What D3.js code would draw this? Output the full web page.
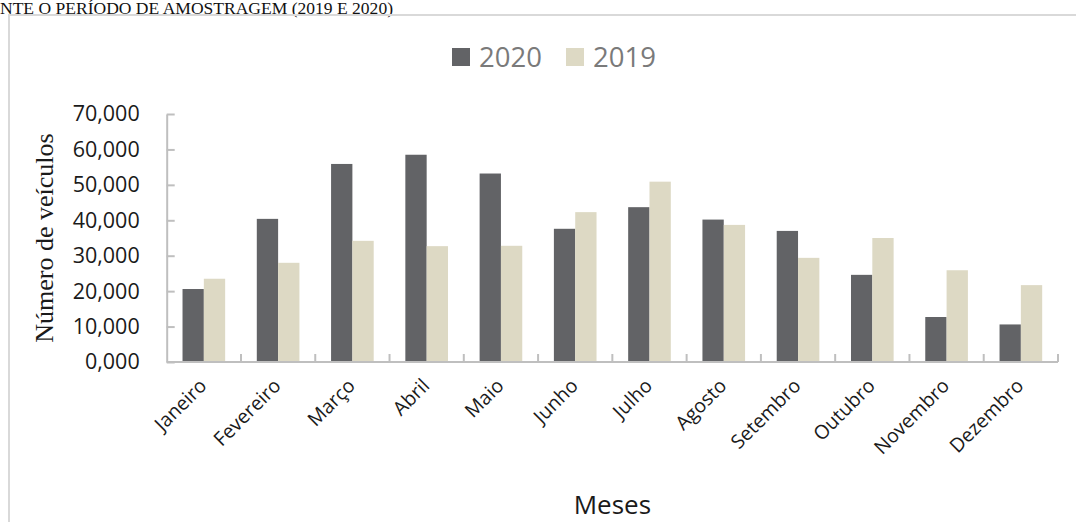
<!DOCTYPE html>
<html>
<head>
<meta charset="utf-8">
<script src="https://cdn.jsdelivr.net/npm/d3@7"></script>
<style>
  html, body { margin: 0; padding: 0; background: #fff; }
  svg { display: block; }
</style>
</head>
<body>
<svg id="chart" width="1076" height="522"></svg>
<script>
// Monthly vehicle counts for the two sampling years
const months = ["Janeiro", "Fevereiro", "Março", "Abril", "Maio", "Junho",
                "Julho", "Agosto", "Setembro", "Outubro", "Novembro", "Dezembro"];
const series2020 = [20600, 40400, 55900, 58500, 53200, 37600, 43700, 40200, 37000, 24600, 12700, 10600];
const series2019 = [23500, 28000, 34200, 32700, 32800, 42300, 50900, 38700, 29400, 35000, 25900, 21700];
const seriesNames = ["2020", "2019"];
const seriesColors = ["#626366", "#ddd9c4"];
const yTickValues = [0, 10000, 20000, 30000, 40000, 50000, 60000, 70000];
const yTickLabels = ["0,000", "10,000", "20,000", "30,000", "40,000", "50,000", "60,000", "70,000"];

const svg = d3.select("#chart");
const sans = "'Open Sans', 'Noto Sans', sans-serif";
const serif = "'Liberation Serif', 'DejaVu Serif', serif";

// Caption line above the chart box
svg.append("text")
  .attr("x", 0).attr("y", 14)
  .attr("font-family", serif).attr("font-size", 16.5)
  .attr("fill", "#111")
  .attr("textLength", 393).attr("lengthAdjust", "spacingAndGlyphs")
  .text("NTE O PERÍODO DE AMOSTRAGEM (2019 E 2020)");

// Chart area frame
svg.append("path")
  .attr("d", "M9,1076 V15 H1076")
  .attr("fill", "none").attr("stroke", "#d9d9d9").attr("stroke-width", 2);

const plot = { left: 166.7, right: 1058, top: 114, bottom: 362 };

const x = d3.scaleBand().domain(months).range([plot.left, plot.right]).paddingInner(0).paddingOuter(0);
const groupPad = 0.213;
const x1 = d3.scaleBand().domain(seriesNames)
  .range([x.bandwidth() * groupPad, x.bandwidth() * (1 - groupPad)]);
const y = d3.scaleLinear().domain([0, 70000]).range([plot.bottom, plot.top]);

const rows = months.map((m, i) => ({ month: m, values: [series2020[i], series2019[i]] }));

// Bars
const groups = svg.append("g").selectAll("g").data(rows).join("g")
  .attr("transform", d => `translate(${x(d.month)},0)`);
groups.selectAll("rect")
  .data(d => d.values.map((v, k) => ({ name: seriesNames[k], value: v, k })))
  .join("rect")
  .attr("x", d => x1(d.name))
  .attr("width", x1.bandwidth())
  .attr("y", d => y(d.value))
  .attr("height", d => y(0) - y(d.value))
  .attr("fill", d => seriesColors[d.k]);

// Y axis
const yAxis = svg.append("g")
  .attr("transform", `translate(${plot.left},0)`)
  .call(d3.axisLeft(y).tickValues(yTickValues)
    .tickFormat((d, i) => yTickLabels[i])
    .tickSizeInner(-8).tickSizeOuter(0).tickPadding(27));
yAxis.select(".domain").attr("stroke", "#bfbfbf").attr("stroke-width", 2);
yAxis.selectAll(".tick line").attr("stroke", "#bfbfbf").attr("stroke-width", 2);
yAxis.selectAll(".tick text")
  .attr("font-family", sans).attr("font-size", 21.5).attr("fill", "#1a1a1a");

// X axis: tick marks sit on category boundaries
const xAxisG = svg.append("g").attr("transform", `translate(0,${plot.bottom})`);
xAxisG.append("line")
  .attr("x1", plot.left).attr("x2", plot.right)
  .attr("stroke", "#bfbfbf").attr("stroke-width", 2);
const boundaries = months.slice(1).map(m => x(m)).concat([plot.right]);
xAxisG.selectAll("line.tk").data(boundaries).join("line")
  .attr("class", "tk")
  .attr("x1", d => d).attr("x2", d => d)
  .attr("y1", 0).attr("y2", -8)
  .attr("stroke", "#bfbfbf").attr("stroke-width", 2);
xAxisG.selectAll("text").data(months).join("text")
  .attr("transform", d => `translate(${x(d) + x.bandwidth() / 2 + 4},${25}) rotate(-45)`)
  .attr("text-anchor", "end")
  .attr("font-family", sans).attr("font-size", 19.5).attr("fill", "#1a1a1a")
  .text(d => d);

// Axis titles
svg.append("text")
  .attr("transform", `translate(53,${(plot.top + plot.bottom) / 2}) rotate(-90)`)
  .attr("text-anchor", "middle")
  .attr("font-family", serif).attr("font-size", 26).attr("fill", "#1a1a1a")
  .text("Número de veículos");

svg.append("text")
  .attr("x", (plot.left + plot.right) / 2).attr("y", 514)
  .attr("text-anchor", "middle")
  .attr("font-family", sans).attr("font-size", 26).attr("fill", "#1a1a1a")
  .text("Meses");

// Legend
const legendItems = [
  { name: seriesNames[0], color: seriesColors[0], x: 452 },
  { name: seriesNames[1], color: seriesColors[1], x: 566 }
];
const legend = svg.append("g").selectAll("g").data(legendItems).join("g")
  .attr("transform", d => `translate(${d.x},48)`);
legend.append("rect").attr("width", 18).attr("height", 18).attr("fill", d => d.color);
legend.append("text")
  .attr("x", 27).attr("y", 18.5)
  .attr("font-family", sans).attr("font-size", 27.5).attr("fill", "#7a7a7a")
  .text(d => d.name);
</script>
</body>
</html>
